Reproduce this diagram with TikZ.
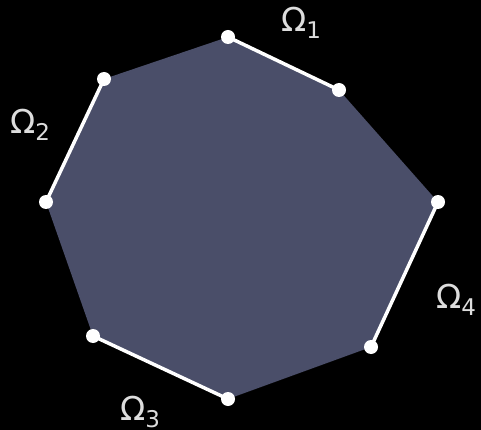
\documentclass[tikz,border=0pt]{standalone}
\usepackage{fontspec}
\setmainfont{DejaVu Sans}
\definecolor{polyfill}{HTML}{4A4E69}
\definecolor{labelgray}{HTML}{DDDDDD}
\newcommand{\omlabel}[1]{Ω\raisebox{-0.22em}{\fontsize{23}{25}\selectfont #1}}
\begin{document}
\begin{tikzpicture}[x=1pt,y=-1pt,
  edge/.style={draw=white,line width=3.5pt},
  vdot/.style={circle,fill=white,inner sep=0pt,minimum size=14pt},
  lbl/.style={text=labelgray,font=\fontsize{33}{35}\selectfont,inner sep=0pt}]
\fill[black] (0,0) rectangle (481,430);
\useasboundingbox (0,0) rectangle (481,430);
\coordinate (p1) at (228,37);
\coordinate (p2) at (339,90);
\coordinate (p3) at (438,202);
\coordinate (p4) at (371,347);
\coordinate (p5) at (228,399);
\coordinate (p6) at (93,336);
\coordinate (p7) at (46,202);
\coordinate (p8) at (104,79);
\fill[polyfill] (p1) -- (p2) -- (p3) -- (p4) -- (p5) -- (p6) -- (p7) -- (p8) -- cycle;
\draw[edge] (p1) -- (p2);
\draw[edge] (p8) -- (p7);
\draw[edge] (p6) -- (p5);
\draw[edge] (p3) -- (p4);
\foreach \p in {p1,p2,p3,p4,p5,p6,p7,p8} \node[vdot] at (\p) {};
\node[lbl] (o1) at (301,23) {\omlabel{1}};
\node[lbl] (o2) at (30,125) {\omlabel{2}};
\node[lbl] (o3) at (140,412) {\omlabel{3}};
\node[lbl] (o4) at (456,300) {\omlabel{4}};
\end{tikzpicture}
\end{document}
